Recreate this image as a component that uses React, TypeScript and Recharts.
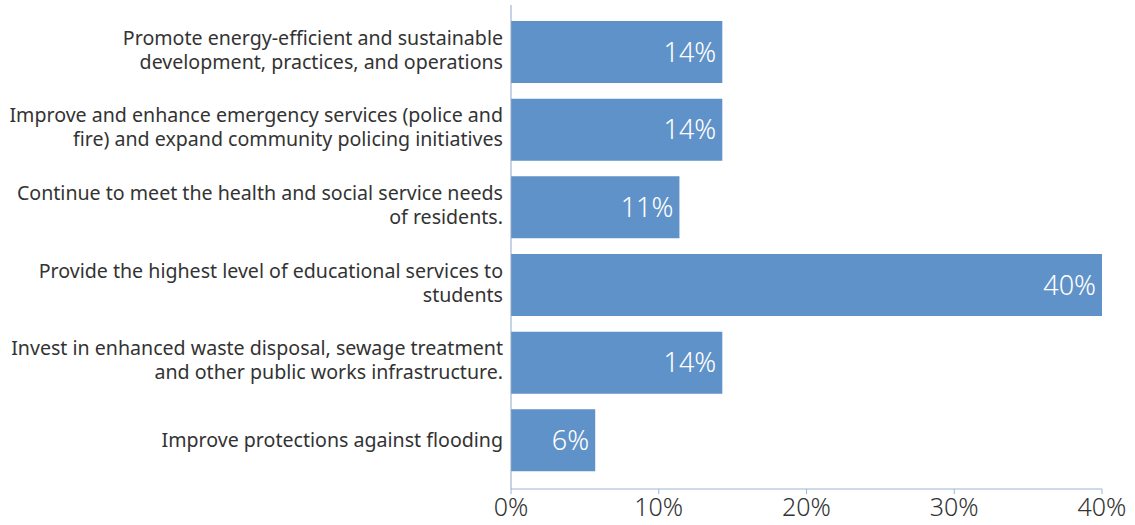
import { Bar, BarChart, LabelList, XAxis, YAxis } from "recharts";

const categories = [
  "Promote energy-efficient and sustainable\ndevelopment, practices, and operations",
  "Improve and enhance emergency services (police and\nfire) and expand community policing initiatives",
  "Continue to meet the health and social service needs\nof residents.",
  "Provide the highest level of educational services to\nstudents",
  "Invest in enhanced waste disposal, sewage treatment\nand other public works infrastructure.",
  "Improve protections against flooding",
];
const shares = [14.3, 14.3, 11.4, 40, 14.3, 5.7];
const xTicks = [0, 10, 20, 30, 40];

const data = categories.map((category, i) => ({ category, share: shares[i] }));

const font = "'Noto Sans', sans-serif";

function CategoryTick({ x, y, payload }: any) {
  const lines = String(payload.value).split("\n");
  const lineHeight = 24;
  const start = y - ((lines.length - 1) * lineHeight) / 2 - (lines.length > 1 ? 2 : 0);
  return (
    <text x={x} y={start} textAnchor="end" fill="#333" fontSize={19.6} fontFamily={font}>
      {lines.map((line, i) => (
        <tspan key={i} x={x} y={start + i * lineHeight} dy="0.35em">
          {line}
        </tspan>
      ))}
    </text>
  );
}

export default function App() {
  return (
    <div style={{ position: "absolute", left: 0, top: 0, background: "#fff" }}>
      <BarChart
        width={1135}
        height={525}
        data={data}
        layout="vertical"
        margin={{ top: 5, right: 33, bottom: 0, left: 0 }}
      >
        <XAxis
          type="number"
          domain={[0, 40]}
          ticks={xTicks}
          tickFormatter={(v) => `${v}%`}
          stroke="#9ab5d8"
          tickSize={5}
          tickMargin={4}
          height={36}
          tick={{ fill: "#333", fontSize: 25, fontFamily: font, fontWeight: 300 }}
        />
        <YAxis
          type="category"
          dataKey="category"
          width={511}
          stroke="#8ea7c6"
          tickLine={false}
          padding={{ top: 8, bottom: 10 }}
          interval={0}
          tick={<CategoryTick />}
        />
        <Bar dataKey="share" fill="#5f92c8" barSize={62} isAnimationActive={false}>
          <LabelList
            dataKey="share"
            position="insideRight"
            offset={6}
            formatter={(v: any) => `${Math.round(Number(v))}%`}
            fill="#fff"
            fontSize={27}
            fontFamily={font}
            fontWeight={300}
          />
        </Bar>
      </BarChart>
    </div>
  );
}
